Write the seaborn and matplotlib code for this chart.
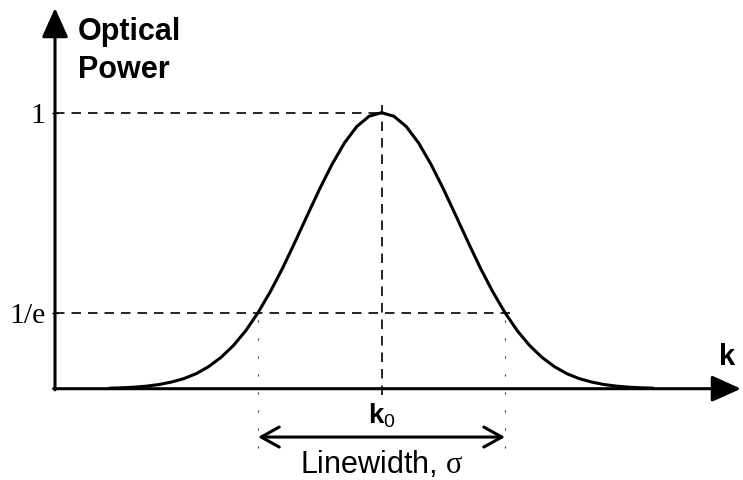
import numpy as np
import matplotlib
matplotlib.use("Agg")
import matplotlib.pyplot as plt
import seaborn as sns

# Spectral line: wavenumber offsets (in units of the linewidth) and normalised power
k0 = 0.0
sigma = 1.0
k = [-2.2, -2.1, -2.0, -1.9, -1.8, -1.7, -1.6, -1.5, -1.4, -1.3, -1.2, -1.1,
     -1.0, -0.9, -0.8, -0.7, -0.6, -0.5, -0.4, -0.3, -0.2, -0.1, 0.0,
     0.1, 0.2, 0.3, 0.4, 0.5, 0.6, 0.7, 0.8, 0.9, 1.0, 1.1, 1.2, 1.3,
     1.4, 1.5, 1.6, 1.7, 1.8, 1.9, 2.0, 2.1, 2.2]
power = [0.008, 0.012, 0.018, 0.027, 0.039, 0.056, 0.077, 0.105, 0.141, 0.185,
         0.237, 0.298, 0.368, 0.445, 0.527, 0.613, 0.698, 0.779, 0.852, 0.914,
         0.961, 0.990, 1.000, 0.990, 0.961, 0.914, 0.852, 0.779, 0.698, 0.613,
         0.527, 0.445, 0.368, 0.298, 0.237, 0.185, 0.141, 0.105, 0.077, 0.056,
         0.039, 0.027, 0.018, 0.012, 0.008]

level_values = [np.exp(-1.0), 1.0]
level_labels = ["1/e", "1"]
k0_label = r"$\mathbf{k}_{\mathsf{0}}$"
x_label = "k"
y_label = ["Optical", "Power"]
width_label = r"Linewidth, $\mathrm{\sigma}$"

sns.set_style("white")
plt.rcParams["font.family"] = ["Liberation Sans", "DejaVu Sans"]
plt.rcParams["mathtext.fontset"] = "custom"
plt.rcParams["mathtext.rm"] = "Liberation Serif"
plt.rcParams["mathtext.bf"] = "Liberation Sans:bold"
plt.rcParams["mathtext.sf"] = "Liberation Sans"
plt.rcParams["text.color"] = "black"
plt.rcParams["xtick.color"] = "black"
plt.rcParams["ytick.color"] = "black"

W, H = 743, 480
fig = plt.figure(figsize=(W / 100, H / 100), dpi=100)
fig.patch.set_facecolor("white")
ax = fig.add_axes([55 / W, (H - 388.7) / H, 686 / W, 380.7 / H])

sns.lineplot(x=k, y=power, ax=ax, color="black", linewidth=2.2,
             sort=False, estimator=None, zorder=5)

# gamma-compressed power axis
gamma = 1.29
ax.set_yscale("function",
              functions=(lambda y: np.sign(y) * np.abs(y) ** gamma,
                         lambda y: np.sign(y) * np.abs(y) ** (1 / gamma)))
x_min, x_max = -2.644, 2.911
ax.set_xlim(x_min, x_max)
ax.set_ylim(0, 1.283)

for side in ax.spines.values():
    side.set_visible(False)
ax.set_facecolor("white")

# axes drawn as arrows
axis_arrow = dict(arrowstyle="-|>,head_length=0.6,head_width=0.27", lw=2.2,
                  color="black", mutation_scale=30, shrinkA=0, shrinkB=0)
ax.annotate("", xy=(1, 0), xytext=(-0.002, 0), xycoords="axes fraction",
            arrowprops=axis_arrow, annotation_clip=False)
ax.annotate("", xy=(0, 1), xytext=(0, -0.003), xycoords="axes fraction",
            arrowprops=axis_arrow, annotation_clip=False)

# reference levels
dash = (0, (5.7, 4.2))
ax.plot([x_min, k0], [level_values[1]] * 2, color="black", lw=1.2, ls=dash)
ax.plot([x_min, 1.09], [level_values[0]] * 2, color="black", lw=1.2, ls=dash)
ax.plot([k0, k0], [-0.017, 0.753], transform=ax.get_xaxis_transform(),
        color="black", lw=1.2, ls=dash, clip_on=False)
ax.plot([k0 - sigma] * 2, [-0.156, 0.19], transform=ax.get_xaxis_transform(),
        color="0.2", lw=0.8, ls=(0, (1.8, 14.4)), clip_on=False)
ax.plot([k0 + sigma] * 2, [-0.156, 0.19], transform=ax.get_xaxis_transform(),
        color="0.2", lw=0.8, ls=(0, (1.8, 14.4)), clip_on=False)

ax.set_yticks(level_values, level_labels, fontfamily="Liberation Serif",
              fontsize=21.5)
ax.tick_params(axis="y", left=True, direction="inout", length=5, width=1,
               pad=4.5, colors="black", labelcolor="black")
ax.set_xticks([k0], [k0_label], fontsize=20)
ax.tick_params(axis="x", bottom=True, length=0, pad=9, colors="black",
               labelcolor="black")
ax.grid(False)

# linewidth span
ax.annotate("", xy=(k0 + sigma, -0.127), xytext=(k0 - sigma, -0.127),
            xycoords=ax.get_xaxis_transform(),
            arrowprops=dict(arrowstyle="<->,head_length=0.65,head_width=0.36",
                            lw=2.2, color="black", mutation_scale=20,
                            shrinkA=0, shrinkB=0),
            annotation_clip=False)
ax.text(k0, -0.221, width_label, transform=ax.get_xaxis_transform(),
        ha="center", va="baseline", fontsize=22, color="black")

ax.text(0.98, 0.083, x_label, transform=ax.transAxes, ha="center",
        va="center", fontsize=21, fontweight="bold", color="black")
ax.text(0.0335, 0.916, y_label[0], transform=ax.transAxes, fontsize=22,
        fontweight="bold", va="baseline", color="black")
ax.text(0.0335, 0.816, y_label[1], transform=ax.transAxes, fontsize=22,
        fontweight="bold", va="baseline", color="black")

fig.savefig("out.png", dpi=100, facecolor="white")
